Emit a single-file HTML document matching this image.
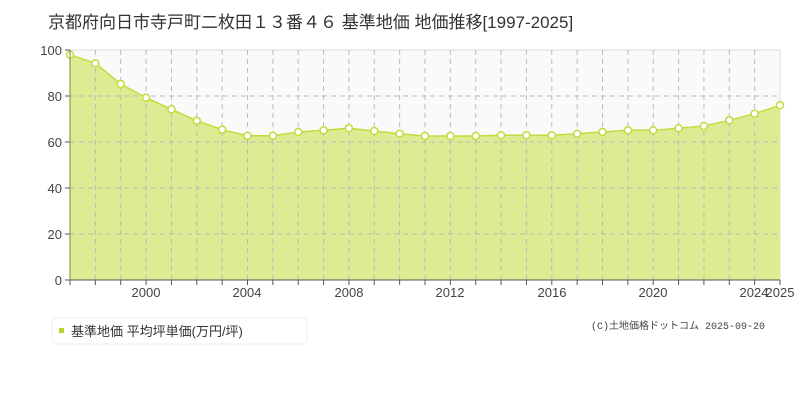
<!DOCTYPE html>
<html><head><meta charset="utf-8"><style>
body{margin:0;background:#fff;width:800px;height:400px;overflow:hidden;font-family:"Liberation Sans","Noto Sans CJK JP",sans-serif;}
</style></head><body>
<svg width="800" height="400" xmlns="http://www.w3.org/2000/svg" style="position:absolute;left:0;top:0">
<text x="48" y="28" font-size="17" fill="#333" font-family="Liberation Sans,Noto Sans CJK JP,sans-serif">京都府向日市寺戸町二枚田１３番４６ 基準地価 地価推移[1997-2025]</text>
<rect x="70" y="50" width="710" height="230" fill="#fafafa" stroke="#ddd"/>
<g id="g"></g>
<polygon id="area" fill="#dbec93"/>
<polyline id="line" fill="none" stroke="#c0dd3e" stroke-width="1.5"/>
<g id="grid" stroke="#bbb" stroke-dasharray="5,4" stroke-width="1"></g>
<g id="pts" fill="#fff" stroke="#c0dd3e" stroke-width="1.5"></g>
<line x1="70" y1="50" x2="70" y2="280" stroke="#7a8a3a"/>
<line x1="70" y1="280" x2="780" y2="280" stroke="#555"/>
<g id="ticks" stroke="#555"></g>
<g font-size="13" fill="#444" text-anchor="end">
<text x="62" y="55">100</text><text x="62" y="101">80</text><text x="62" y="147">60</text><text x="62" y="193">40</text><text x="62" y="239">20</text><text x="62" y="285">0</text>
</g>
<g font-size="13" fill="#444" text-anchor="middle">
<text x="146" y="297">2000</text><text x="247" y="297">2004</text><text x="349" y="297">2008</text><text x="450" y="297">2012</text><text x="552" y="297">2016</text><text x="653" y="297">2020</text><text x="754" y="297">2024</text><text x="780" y="297">2025</text>
</g>
<rect x="52" y="318" width="255" height="26" rx="4" fill="#fff" stroke="#eee"/>
<rect x="59" y="328" width="5" height="5" fill="#b5d334"/>
<text x="71" y="336" font-size="13" fill="#333">基準地価 平均坪単価(万円/坪)</text>
<text x="765" y="329" font-size="10" fill="#444" text-anchor="end" font-family="Liberation Mono,Noto Sans CJK JP,monospace">(C)土地価格ドットコム 2025-09-20</text>
</svg>
<script>
var ys=[54.7,63.3,84,97.7,109.3,120.7,129.7,135.7,135.7,132,130.3,128.3,131,133.7,136,136,136,135.3,135.3,135.3,133.7,132,130.3,130.3,128.3,126,120.3,113.7,105.3];
var ns="http://www.w3.org/2000/svg",pts=[];
for(var i=0;i<ys.length;i++){var x=70+i*710/28;pts.push(x.toFixed(1)+","+ys[i]);}
document.getElementById("line").setAttribute("points",pts.join(" "));
document.getElementById("area").setAttribute("points","70,280 "+pts.join(" ")+" 780,280");
var g=document.getElementById("grid"),p=document.getElementById("pts"),t=document.getElementById("ticks");
for(var i=1;i<28;i++){var x=70+i*710/28;var l=document.createElementNS(ns,"line");l.setAttribute("x1",x);l.setAttribute("x2",x);l.setAttribute("y1",50);l.setAttribute("y2",280);g.appendChild(l);}
for(var v=20;v<100;v+=20){var y=280-v*2.3;var l=document.createElementNS(ns,"line");l.setAttribute("x1",70);l.setAttribute("x2",780);l.setAttribute("y1",y);l.setAttribute("y2",y);g.appendChild(l);}
for(var i=0;i<=28;i++){var x=70+i*710/28;var l=document.createElementNS(ns,"line");l.setAttribute("x1",x);l.setAttribute("x2",x);l.setAttribute("y1",280);l.setAttribute("y2",285);t.appendChild(l);
var c=document.createElementNS(ns,"circle");c.setAttribute("cx",x);c.setAttribute("cy",ys[i]);c.setAttribute("r",3.5);p.appendChild(c);}
for(var v=0;v<=100;v+=20){var y=280-v*2.3;var l=document.createElementNS(ns,"line");l.setAttribute("x1",65);l.setAttribute("x2",70);l.setAttribute("y1",y);l.setAttribute("y2",y);t.appendChild(l);}
</script>
</body></html>
